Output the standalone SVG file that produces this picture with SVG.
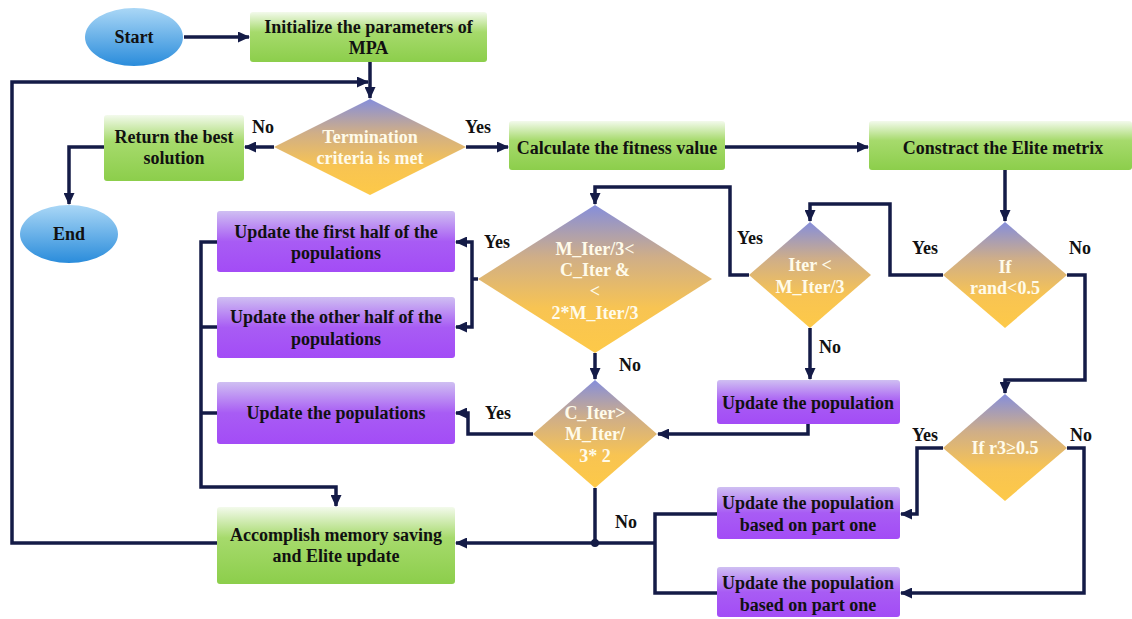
<svg xmlns="http://www.w3.org/2000/svg" width="1132" height="619" viewBox="0 0 1132 619">
<defs>
<linearGradient id="gGreen" x1="0" y1="0" x2="0" y2="1">
<stop offset="0" stop-color="#f3faec"/>
<stop offset="0.4" stop-color="#a6da6c"/>
<stop offset="1" stop-color="#8cce4b"/>
</linearGradient>
<linearGradient id="gPurple" x1="0" y1="0" x2="0" y2="1">
<stop offset="0" stop-color="#cfbff2"/>
<stop offset="0.5" stop-color="#a85cf4"/>
<stop offset="1" stop-color="#a34cf6"/>
</linearGradient>
<linearGradient id="gDiamond" x1="0" y1="0" x2="0" y2="1">
<stop offset="0" stop-color="#858edb"/>
<stop offset="0.35" stop-color="#cfae88"/>
<stop offset="0.7" stop-color="#f8c452"/>
<stop offset="1" stop-color="#fdc948"/>
</linearGradient>
<linearGradient id="gBlue" x1="0" y1="0" x2="0" y2="1">
<stop offset="0" stop-color="#aad7f6"/>
<stop offset="1" stop-color="#2a8cdb"/>
</linearGradient>
<marker id="arr" markerUnits="userSpaceOnUse" viewBox="0 0 12 11" refX="11" refY="5.5" markerWidth="12" markerHeight="11" orient="auto">
<path d="M0,0 L12,5.5 L0,11 z" fill="#141b47"/>
</marker>
<style>
text{font-family:"Liberation Serif","Times New Roman",serif;font-weight:bold;font-size:18px;text-anchor:middle;fill:#111111}
.dt{fill:#fffbea}
.green{fill:url(#gGreen)}
.purple{fill:url(#gPurple)}
.dia{fill:url(#gDiamond)}
.oval{fill:url(#gBlue)}
.c{fill:none;stroke:#141b47;stroke-width:3.5;stroke-linejoin:miter}
.a{marker-end:url(#arr)}
</style>
</defs>

<g id="connectors">
<path class="c a" d="M184,37 H249"/>
<path class="c a" d="M370,62 V98"/>
<path class="c a" d="M217,543 H12 V82 H368"/>
<path class="c a" d="M274,147 H245"/>
<path class="c a" d="M104,147 H69 V204"/>
<path class="c a" d="M466,147 H508"/>
<path class="c a" d="M725,147 H868"/>
<path class="c a" d="M1005,170 V221"/>
<path class="c a" d="M943,275 H890 V204 H810 V221"/>
<path class="c a" d="M749,275 H730 V187 H595 V204"/>
<path class="c a" d="M810,328 V379"/>
<path class="c a" d="M808,423 V434 H658"/>
<path class="c a" d="M595,353 V379"/>
<path class="c" d="M478,279 H472"/>
<path class="c a" d="M472,279 V242 H456"/>
<path class="c a" d="M472,279 V327 H456"/>
<path class="c a" d="M533,434 H468 V413 H456"/>
<path class="c" d="M595,488 V543"/>
<path class="c" d="M717,514 H655 V593 H717"/>
<path class="c a" d="M655,543 H456"/>
<circle cx="595" cy="543" r="4" fill="#141b47"/>
<path class="c a" d="M217,242 H201 V487 H336 V506"/>
<path class="c" d="M201,327 H217"/>
<path class="c" d="M201,413 H217"/>
<path class="c a" d="M1067,275 H1085 V380 H1005 V393"/>
<path class="c a" d="M943,448 H917 V514 H901"/>
<path class="c a" d="M1067,448 H1084 V593 H901"/>
</g>

<g id="labels">
<text x="263" y="133">No</text>
<text x="478" y="133">Yes</text>
<text x="497" y="248">Yes</text>
<text x="750" y="244">Yes</text>
<text x="925" y="254">Yes</text>
<text x="1080" y="254">No</text>
<text x="830" y="353">No</text>
<text x="630" y="371">No</text>
<text x="498" y="419">Yes</text>
<text x="626" y="528">No</text>
<text x="925" y="441">Yes</text>
<text x="1081" y="441">No</text>
</g>

<g id="start">
<ellipse class="oval" cx="134" cy="37" rx="49" ry="29"/>
<text x="134" y="43">Start</text>
</g>
<g id="init">
<rect class="green" x="250" y="12" width="237" height="50" rx="3"/>
<text x="368.5" y="33">Initialize the parameters of</text>
<text x="368.5" y="54">MPA</text>
</g>
<g id="termination">
<polygon class="dia" points="370,99 466,147 370,195 274,147"/>
<text class="dt" x="370" y="143">Termination</text>
<text class="dt" x="370" y="164">criteria is met</text>
</g>
<g id="return">
<rect class="green" x="104" y="115" width="140" height="66" rx="3"/>
<text x="174" y="143">Return the best</text>
<text x="174" y="164">solution</text>
</g>
<g id="end">
<ellipse class="oval" cx="69" cy="234" rx="49" ry="29"/>
<text x="69" y="240">End</text>
</g>
<g id="calculate">
<rect class="green" x="509" y="121" width="216" height="49" rx="3"/>
<text x="617" y="154">Calculate the fitness value</text>
</g>
<g id="constract">
<rect class="green" x="869" y="121" width="263" height="49" rx="3"/>
<text x="1003" y="154">Constract the Elite metrix</text>
</g>
<g id="rand">
<polygon class="dia" points="1005,222 1067,275 1005,328 943,275"/>
<text class="dt" x="1005" y="273">If</text>
<text class="dt" x="1005" y="294">rand&lt;0.5</text>
</g>
<g id="iter">
<polygon class="dia" points="810,222 871,275 810,328 749,275"/>
<text class="dt" x="810" y="271">Iter &lt;</text>
<text class="dt" x="810" y="293">M_Iter/3</text>
</g>
<g id="miter">
<polygon class="dia" points="595,205 712,279 595,353 478,279"/>
<text class="dt" x="595" y="255">M_Iter/3&lt;</text>
<text class="dt" x="595" y="276">C_Iter &amp;</text>
<text class="dt" x="595" y="297">&lt;</text>
<text class="dt" x="595" y="319">2*M_Iter/3</text>
</g>
<g id="citer">
<polygon class="dia" points="595,380 657,434 595,488 533,434"/>
<text class="dt" x="595" y="419">C_Iter&gt;</text>
<text class="dt" x="595" y="440">M_Iter/</text>
<text class="dt" x="595" y="462">3* 2</text>
</g>
<g id="update-pop">
<rect class="purple" x="717" y="380" width="183" height="44" rx="3"/>
<text x="808" y="409">Update the population</text>
</g>
<g id="r3">
<polygon class="dia" points="1005,394 1067,448 1005,501 943,448"/>
<text class="dt" x="1005" y="454">If r3≥0.5</text>
</g>
<g id="part-one-a">
<rect class="purple" x="717" y="487" width="183" height="52" rx="3"/>
<text x="808" y="509">Update the population</text>
<text x="808" y="531">based on part one</text>
</g>
<g id="part-one-b">
<rect class="purple" x="717" y="567" width="183" height="50" rx="3"/>
<text x="808" y="589">Update the population</text>
<text x="808" y="611">based on part one</text>
</g>
<g id="first-half">
<rect class="purple" x="217" y="211" width="238" height="61" rx="3"/>
<text x="336" y="238">Update the first half of the</text>
<text x="336" y="259">populations</text>
</g>
<g id="other-half">
<rect class="purple" x="217" y="297" width="238" height="61" rx="3"/>
<text x="336" y="323">Update the other half of the</text>
<text x="336" y="345">populations</text>
</g>
<g id="populations">
<rect class="purple" x="217" y="382" width="238" height="62" rx="3"/>
<text x="336" y="419">Update the populations</text>
</g>
<g id="accomplish">
<rect class="green" x="217" y="507" width="238" height="77" rx="3"/>
<text x="336" y="541">Accomplish memory saving</text>
<text x="336" y="562">and Elite update</text>
</g>
</svg>
